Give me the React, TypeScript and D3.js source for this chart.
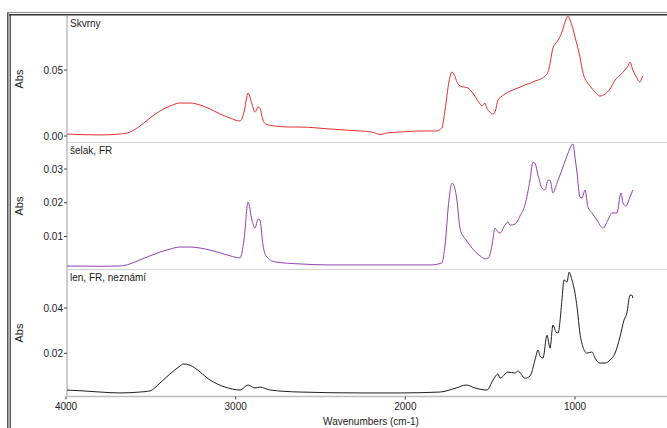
import React from 'react';
import * as d3 from 'd3';

// spectra: [wavenumber, absorbance]
const skvrnyW = [4000,3800,3682,3623,3564,3505,3446,3387,3328,3270,3210,3151,3092,3033,2974,2951,2927,2904,2886,2868,2857,2839,2821,2768,2680,2621,2444,2350,2267,2200,2149,2100,2031,1914,1820,1785,1766,1743,1725,1710,1696,1678,1650,1631,1607,1590,1560,1548,1531,1519,1501,1483,1472,1454,1442,1413,1383,1354,1324,1295,1265,1236,1206,1177,1159,1147,1130,1112,1100,1077,1059,1041,1030,1018,1000,971,953,930,912,882,853,823,794,764,735,700,688,676,659,635,617,606,600];
const skvrnyA = [0.0015,0.0008,0.0015,0.003,0.0076,0.0136,0.019,0.0227,0.025,0.025,0.0235,0.0205,0.0167,0.0136,0.0114,0.018,0.0326,0.0243,0.018,0.022,0.021,0.012,0.009,0.0076,0.0068,0.0068,0.0053,0.0045,0.0038,0.003,0.0012,0.0025,0.003,0.0038,0.0038,0.006,0.0197,0.041,0.0485,0.046,0.041,0.038,0.037,0.0364,0.0333,0.0303,0.0243,0.0227,0.025,0.021,0.018,0.0167,0.018,0.0273,0.029,0.0318,0.034,0.0356,0.037,0.0387,0.04,0.0417,0.043,0.0455,0.0485,0.0553,0.0667,0.0705,0.0728,0.0788,0.0864,0.091,0.088,0.084,0.075,0.06,0.0478,0.041,0.038,0.0333,0.0303,0.0318,0.0356,0.0424,0.046,0.051,0.053,0.056,0.05,0.044,0.041,0.044,0.0455];

const selakW = [4000,3800,3682,3623,3564,3505,3446,3387,3328,3270,3210,3151,3092,3033,2974,2951,2927,2904,2886,2868,2857,2839,2821,2768,2621,2444,2267,2031,1850,1785,1766,1743,1725,1710,1696,1678,1660,1642,1607,1560,1531,1510,1489,1472,1454,1442,1413,1395,1383,1354,1324,1295,1265,1248,1236,1218,1195,1177,1159,1147,1130,1106,1071,1041,1012,1000,988,971,959,941,924,900,871,835,806,782,753,729,717,700,676,659];
const selakA = [0.0013,0.0012,0.0013,0.0019,0.0031,0.0043,0.0054,0.0063,0.0069,0.0069,0.0066,0.006,0.0052,0.0043,0.0037,0.009,0.0202,0.0149,0.0125,0.0152,0.0149,0.0075,0.0043,0.0025,0.0019,0.0016,0.0016,0.0016,0.0016,0.0022,0.0075,0.0208,0.0258,0.0246,0.0208,0.0125,0.0102,0.009,0.0066,0.0043,0.0034,0.0037,0.0075,0.0125,0.0114,0.011,0.0134,0.0143,0.0134,0.0137,0.0161,0.0194,0.0268,0.032,0.0317,0.0282,0.0244,0.0238,0.0267,0.0267,0.0229,0.0259,0.0306,0.0347,0.0374,0.0335,0.0288,0.0217,0.0214,0.0238,0.0188,0.017,0.0149,0.0125,0.0149,0.017,0.017,0.0229,0.02,0.019,0.0217,0.0238];

const lenW = [4000,3900,3800,3682,3564,3505,3446,3387,3328,3310,3270,3240,3151,3063,2974,2927,2886,2857,2798,2621,2267,2031,1796,1700,1642,1590,1519,1483,1454,1442,1395,1354,1336,1295,1265,1236,1218,1206,1189,1165,1147,1130,1112,1100,1077,1065,1047,1035,1018,1000,988,971,953,930,900,882,853,823,794,764,735,711,694,676,665,659];
const lenA = [0.0038,0.0034,0.0029,0.0025,0.0029,0.0034,0.0069,0.0109,0.0144,0.0153,0.0148,0.0135,0.0082,0.0051,0.0038,0.006,0.0047,0.0051,0.0038,0.0029,0.0025,0.0025,0.0029,0.0047,0.006,0.0047,0.0038,0.0082,0.0109,0.009,0.0117,0.0113,0.0122,0.009,0.01,0.017,0.0215,0.0188,0.0179,0.028,0.0223,0.0325,0.0294,0.029,0.0435,0.0524,0.0515,0.0559,0.0524,0.0466,0.0404,0.029,0.0228,0.0201,0.0206,0.0179,0.0157,0.0157,0.017,0.0201,0.0272,0.0347,0.0378,0.0457,0.0457,0.0444];

const panelNames = ['Skvrny', 'šelak, FR', 'len, FR, neznámí'];
const panelColors = ['#e2302c', '#9440b0', '#1e1e1e'];
const panelDomains = [[-0.00455, 0.091], [0.0004, 0.0377], [0.00115, 0.0568]];
const panelTicks = [[0, 0.05], [0.01, 0.02, 0.03], [0.02, 0.04]];
const xTicks = [4000, 3000, 2000, 1000];

const W = 667, H = 428;
const left = 67;
const tops = [16, 143, 270];
const bottoms = [142, 269, 396];
const font = '"Liberation Sans", Arial, sans-serif';

export default function App() {
  const x = d3.scaleLinear().domain([4000, 400]).range([left - 1, left - 1 + 3600 * 0.16967]);
  const series = [
    [skvrnyW, skvrnyA],
    [selakW, selakA],
    [lenW, lenA],
  ];
  const fmt = d3.format('.2f');

  return (
    <svg width={W} height={H} style={{ position: 'absolute', left: 0, top: 0, background: '#fff' }}
      fontFamily={font}>
      {/* frame */}
      <line x1={7.5} x2={W} y1={12.5} y2={12.5} stroke="#8a8a8a" strokeWidth={1.2} />
      <line x1={9} x2={W} y1={14.8} y2={14.8} stroke="#333" strokeWidth={1.4} />
      <line x1={7.8} x2={7.8} y1={12.5} y2={H} stroke="#444" strokeWidth={1.4} />
      <line x1={10.2} x2={10.2} y1={14.8} y2={H} stroke="#333" strokeWidth={1.2} />

      {/* panel separators */}
      {[142.5, 269.5].map((yy, i) => (
        <line key={i} x1={left} x2={W} y1={yy} y2={yy} stroke="#d4d4d4" strokeWidth={1} />
      ))}
      {/* left axis line and bottom axis */}
      <line x1={left} x2={left} y1={16} y2={396.5} stroke="#bdbdbd" strokeWidth={1.5} />
      <line x1={left} x2={W} y1={396.5} y2={396.5} stroke="#bdbdbd" strokeWidth={1.5} />

      <defs>
        <clipPath id="plotclip">
          <rect x={left} y={15.5} width={W - left} height={381} />
        </clipPath>
      </defs>

      {series.map(([ws, as], i) => {
        const y = d3.scaleLinear().domain(panelDomains[i]).range([bottoms[i], tops[i]]);
        const line = d3.line<number>()
          .x((d) => x(ws[d]))
          .y((d) => y(as[d]))
          .curve(d3.curveMonotoneX);
        const idx = ws.map((_, k) => k);
        const mid = (tops[i] + bottoms[i]) / 2;
        return (
          <g key={i}>
            <path d={line(idx) || ''} fill="none" stroke={panelColors[i]} strokeWidth={1}
              clipPath="url(#plotclip)" />
            {panelTicks[i].map((t) => (
              <g key={t} transform={`translate(0,${y(t)})`}>
                <line x1={left - 3} x2={left} stroke="#444" strokeWidth={1} />
                <text x={left - 4} dy="0.35em" textAnchor="end" fontSize={10} fill="#222">{fmt(t)}</text>
              </g>
            ))}
            <text x={70} y={tops[i] + 11} fontSize={10} fill="#222">{panelNames[i]}</text>
            <text transform={`translate(23,${mid}) rotate(-90)`} textAnchor="middle" fontSize={11}
              fill="#222">Abs</text>
          </g>
        );
      })}

      {xTicks.map((t) => (
        <g key={t} transform={`translate(${x(t)},396.5)`}>
          <line y1={0} y2={3} stroke="#444" strokeWidth={1} />
          <text y={13} textAnchor="middle" fontSize={10} fill="#222">{t}</text>
        </g>
      ))}
      <text x={371} y={425} textAnchor="middle" fontSize={10} fill="#222">Wavenumbers (cm-1)</text>
    </svg>
  );
}
